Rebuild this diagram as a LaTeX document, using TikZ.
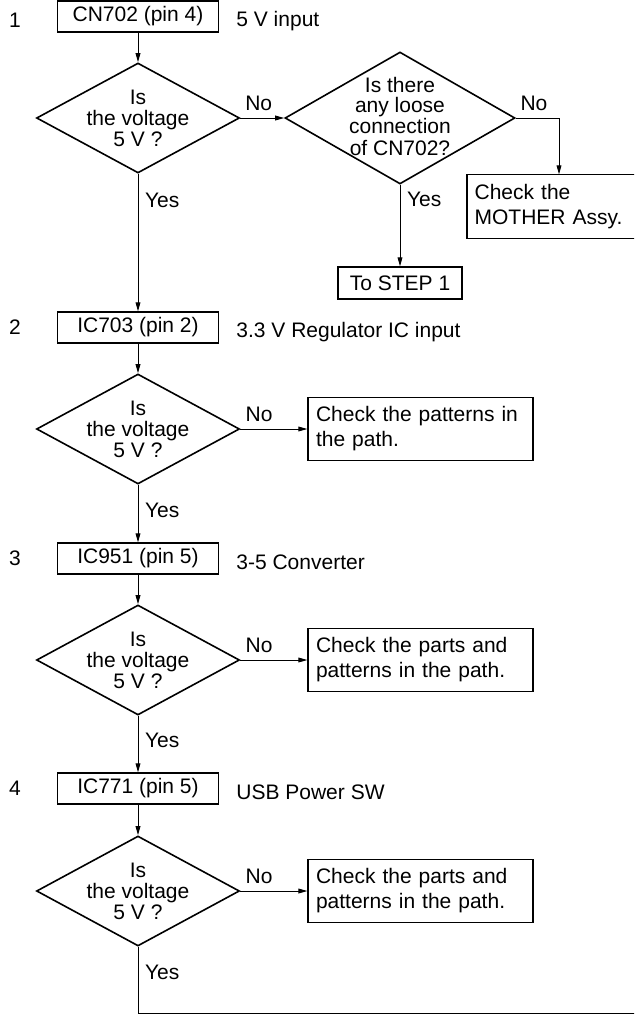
\documentclass[tikz,border=0pt]{standalone}
\usepackage{fontspec}
\setmainfont{Liberation Sans}
\usetikzlibrary{shapes.geometric,arrows.meta}
\tikzset{
  stepbox/.style={draw,line width=0.65pt,minimum width=80.5pt,minimum height=15.5pt,inner sep=0pt},
  decision/.style={draw,diamond,line width=0.8pt,minimum width=101.5pt,minimum height=55pt,inner sep=0pt},
  qtext/.style={align=center,inner sep=0pt,font=\fontsize{10.5}{10.5}\selectfont},
  checkbox/.style={draw,line width=0.65pt,minimum width=112.5pt,minimum height=31.5pt,inner sep=0pt,
    text width=104.5pt,align=left},
  stepno/.style={inner sep=0pt},
  note/.style={anchor=base west,inner sep=0pt},
  wire/.style={line width=0.45pt},
  arr/.style={line width=0.45pt,-{Triangle[length=4.5pt,width=2.4pt]}},
}
\begin{document}
\begin{tikzpicture}[x=0.5pt,y=-0.5pt,font=\fontsize{10.5}{12.5}\selectfont]
  \useasboundingbox (0,0) rectangle (634,1015);
  \clip (0,0) rectangle (634,1015);
  % step 1
  \node[stepno] (n1) at (15,20) {1};
  \node[stepbox] (s1) at (138,16.5) {CN702 (pin 4)};
  \node[note] (c1) at (236,26.5) {5 V input};
  \node[decision] (q1) at (138,118) {};
  \node[qtext] (q1t) at (q1) {Is\\the voltage\\5 V ?};
  \node[decision,minimum width=115pt,minimum height=66pt] (q1b) at (400,118) {};
  \node[qtext] (q1bt) at (400,116) {Is there\\any loose\\connection\\of CN702?};
  \node[stepbox,minimum width=62pt,minimum height=16pt] (go1) at (400,283) {To STEP 1};
  % box runs off the right edge
  \node[checkbox,draw=none,anchor=west,minimum width=0pt,inner xsep=3.5pt,text width=95pt] (mother) at (467,206.5) {Check the\\MOTHER Assy.};
  \draw[line width=0.65pt] (mother.north east) -- (mother.north west) -- (mother.south west) -- (mother.south east);
  \coordinate (nobend) at (559,118);
  \draw[arr] (s1) -- (q1);
  \draw[arr] (q1) -- node[pos=0.42,above] (no1) {No} (q1b);
  \draw[arr] (q1b.east) -- node[pos=0.42,above] (no1b) {No} (nobend) -- (nobend |- mother.north);
  \draw[arr] (q1b) -- node[pos=0.18,right] (yes1b) {Yes} (go1);
  % step 2
  \node[stepno] (n2) at (15,327.5) {2};
  \node[stepbox] (s2) at (138,327.5) {IC703 (pin 2)};
  \node[note] (c2) at (236,338) {3.3 V Regulator IC input};
  \node[decision] (q2) at (138,429) {};
  \node[qtext] (q2t) at (q2) {Is\\the voltage\\5 V ?};
  \node[checkbox] (chk2) at (420.5,429) {Check the patterns in\\the path.};
  \draw[arr] (q1) -- node[pos=0.19,right] (yes1) {Yes} (s2);
  \draw[arr] (s2) -- (q2);
  \draw[arr] (q2) -- node[pos=0.28,above] (no2) {No} (chk2);
  % step 3
  \node[stepno] (n3) at (15,558.5) {3};
  \node[stepbox] (s3) at (138,558.5) {IC951 (pin 5)};
  \node[note] (c3) at (236,569) {3-5 Converter};
  \node[decision] (q3) at (138,660) {};
  \node[qtext] (q3t) at (q3) {Is\\the voltage\\5 V ?};
  \node[checkbox] (chk3) at (420.5,660) {Check the parts and\\patterns in the path.};
  \draw[arr] (q2) -- node[pos=0.45,right] (yes2) {Yes} (s3);
  \draw[arr] (s3) -- (q3);
  \draw[arr] (q3) -- node[pos=0.28,above] (no3) {No} (chk3);
  % step 4
  \node[stepno] (n4) at (15,788.5) {4};
  \node[stepbox] (s4) at (138,788.5) {IC771 (pin 5)};
  \node[note] (c4) at (236,799) {USB Power SW};
  \node[decision] (q4) at (138,891) {};
  \node[qtext] (q4t) at (q4) {Is\\the voltage\\5 V ?};
  \node[checkbox] (chk4) at (420.5,891) {Check the parts and\\patterns in the path.};
  \draw[arr] (q3) -- node[pos=0.43,right] (yes3) {Yes} (s4);
  \draw[arr] (s4) -- (q4);
  \draw[arr] (q4) -- node[pos=0.28,above] (no4) {No} (chk4);
  \coordinate (exit) at (640,1013);
  \draw[wire] (q4) |- node[pos=0.19,right] (yes4) {Yes} (exit);
\end{tikzpicture}
\end{document}
